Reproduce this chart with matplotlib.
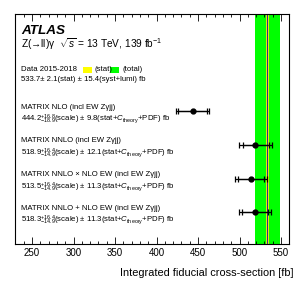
import matplotlib
matplotlib.use("Agg")
import matplotlib.pyplot as plt
import matplotlib.transforms as mtransforms
from matplotlib.patches import Rectangle
from matplotlib.ticker import MultipleLocator

plt.rcParams['font.family'] = ['Liberation Sans', 'DejaVu Sans']
plt.rcParams['mathtext.fontset'] = 'custom'
plt.rcParams['mathtext.rm'] = 'Liberation Sans'
plt.rcParams['mathtext.it'] = 'Liberation Sans:italic'
plt.rcParams['mathtext.bf'] = 'Liberation Sans:bold'

# measured cross-section
data_val = 533.7
data_stat = 2.1
data_syst = 15.4
data_tot = (data_stat ** 2 + data_syst ** 2) ** 0.5

# predictions
pred_names = ["MATRIX NLO (incl EW Z\u03b3jj)",
              "MATRIX NNLO (incl EW Z\u03b3jj)",
              "MATRIX NNLO \u00d7 NLO EW (incl EW Z\u03b3jj)",
              "MATRIX NNLO + NLO EW (incl EW Z\u03b3jj)"]
pred_val = [444.2, 518.9, 513.5, 518.3]
pred_scale_up = [16.8, 16.4, 16.4, 16.4]
pred_scale_dn = [18.9, 14.9, 14.9, 14.9]
pred_other = [9.8, 12.1, 11.3, 11.3]

ypos = [4, 3, 2, 1]

fig = plt.figure(figsize=(3.05, 2.93), dpi=100)
ax = fig.add_axes([0.048, 0.167, 0.9005, 0.785])

ax.axvspan(data_val - data_tot, data_val + data_tot, color='#00ff00', lw=0)
ax.axvspan(data_val - data_stat, data_val + data_stat, color='#ffff00', lw=0)
ax.axvline(data_val, color='#303090', lw=0.9)

for i in range(len(pred_val)):
    tot_up = (pred_scale_up[i] ** 2 + pred_other[i] ** 2) ** 0.5
    tot_dn = (pred_scale_dn[i] ** 2 + pred_other[i] ** 2) ** 0.5
    ax.errorbar(pred_val[i], ypos[i], xerr=[[tot_dn], [tot_up]], fmt='o', color='black',
                ms=3.5, lw=0.9, capsize=2.3, capthick=0.9)
    ax.errorbar(pred_val[i], ypos[i], xerr=[[pred_scale_dn[i]], [pred_scale_up[i]]], fmt='none',
                color='black', lw=0.9, capsize=2.3, capthick=0.9)

ax.set_xlim(229, 560)
ax.set_ylim(0.05, 6.9)
ax.set_yticks([])
ax.xaxis.set_major_locator(MultipleLocator(50))
ax.xaxis.set_minor_locator(MultipleLocator(10))
ax.tick_params(axis='x', which='both', direction='in', top=True, labelsize=7)
ax.tick_params(axis='x', which='major', length=5, width=0.6, pad=3)
ax.tick_params(axis='x', which='minor', length=2.5, width=0.6)
for s in ax.spines.values():
    s.set_linewidth(0.8)

ax.set_xlabel("Integrated fiducial cross-section [fb]", fontsize=7.9, ha='right')
ax.xaxis.set_label_coords(1.015, -0.105)

tx = 0.023
ax.text(tx, 0.927, "ATLAS", transform=ax.transAxes, fontsize=9.7, fontweight='bold',
        fontstyle='italic', va='center')
ax.text(tx, 0.868, "Z(\u2192ll)\u03b3  $\\sqrt{s}$ = 13 TeV, 139 fb$^{-1}$", transform=ax.transAxes,
        fontsize=7.3, va='center')
ax.text(tx, 0.757, "Data 2015-2018", transform=ax.transAxes, fontsize=5.6, va='center')
ax.add_patch(Rectangle((0.248, 0.745), 0.034, 0.025, transform=ax.transAxes,
                       facecolor='#ffff00', edgecolor='none'))
ax.text(0.289, 0.757, "(stat)", transform=ax.transAxes, fontsize=5.6, va='center')
ax.add_patch(Rectangle((0.347, 0.745), 0.034, 0.025, transform=ax.transAxes,
                       facecolor='#00ff00', edgecolor='none'))
ax.text(0.391, 0.757, "(total)", transform=ax.transAxes, fontsize=5.6, va='center')
ax.text(tx, 0.717, "%.1f\u00b1 %.1f(stat) \u00b1 %.1f(syst+lumi) fb" % (data_val, data_stat, data_syst),
        transform=ax.transAxes, fontsize=5.6, va='center')

trans = mtransforms.blended_transform_factory(ax.transAxes, ax.transData)
for i in range(len(pred_val)):
    ax.text(tx, ypos[i] + 0.12, pred_names[i], transform=trans, fontsize=5.6, va='center')
    ax.text(tx, ypos[i] - 0.25,
            "%.1f$^{+%.1f}_{-%.1f}$(scale) \u00b1 %.1f(stat+$C_{\\mathrm{theory}}$+PDF) fb"
            % (pred_val[i], pred_scale_up[i], pred_scale_dn[i], pred_other[i]),
            transform=trans, fontsize=5.6, va='center')

fig.savefig("out.png", dpi=100)
